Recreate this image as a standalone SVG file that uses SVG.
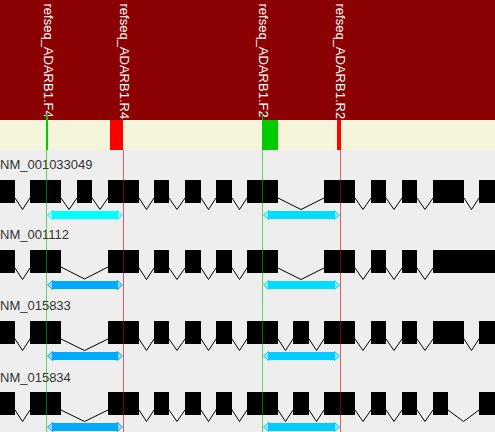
<svg xmlns="http://www.w3.org/2000/svg" width="495" height="432" viewBox="0 0 495 432">
<style>
.hdr{font-family:"Liberation Sans",Arial,sans-serif;font-size:13px;fill:#ffffff}
.lbl{font-family:"Liberation Sans",Arial,sans-serif;font-size:13px;fill:#333333}
.exon{fill:#000000}
.intron{fill:none;stroke:#000000;stroke-width:1}
.vg{stroke:#00bb00;stroke-opacity:0.6;stroke-width:1}
.vr{stroke:#cc0000;stroke-opacity:0.6;stroke-width:1}
.tip{stroke-width:1}
</style>
<rect x="0" y="0" width="495" height="432" fill="#eeeeee"/>
<rect x="0" y="0" width="495" height="120" fill="#8b0000"/>
<rect x="0" y="120" width="495" height="30" fill="#f5f5dc"/>
<g id="primer-labels">
<text class="hdr" transform="translate(43.5,3.5) rotate(90)">refseq_ADARB1.F4</text>
<text class="hdr" transform="translate(119.5,3.5) rotate(90)">refseq_ADARB1.R4</text>
<text class="hdr" transform="translate(258.5,3.5) rotate(90)">refseq_ADARB1.F2</text>
<text class="hdr" transform="translate(336,3.5) rotate(90)">refseq_ADARB1.R2</text>
</g>
<g id="primer-markers">
<rect x="46" y="114" width="2" height="36" fill="#00cc00"/>
<rect x="110" y="120" width="13" height="30" fill="#ff0000"/>
<rect x="262" y="120" width="16" height="30" fill="#00cc00"/>
<rect x="262" y="112" width="1" height="8" fill="#00cc00"/>
<rect x="337" y="120" width="4" height="30" fill="#ff0000"/>
</g>
<g id="transcript-1">
<text class="lbl" x="0" y="168.5">NM_001033049</text>
<g class="exon">
<rect x="0" y="180" width="15" height="23"/><rect x="30" y="180" width="31" height="23"/><rect x="77" y="180" width="15" height="23"/><rect x="108" y="180" width="31" height="23"/><rect x="154" y="180" width="15" height="23"/><rect x="185" y="180" width="16" height="23"/><rect x="216" y="180" width="16" height="23"/><rect x="247" y="180" width="31" height="23"/><rect x="324" y="180" width="31" height="23"/><rect x="371" y="180" width="15" height="23"/><rect x="402" y="180" width="15" height="23"/><rect x="433" y="180" width="31" height="23"/><rect x="479" y="180" width="16" height="23"/>
</g>
<path class="intron" d="M15,198L22.5,209.5L30,198M61,198L69,209.5L77,198M92,198L100,209.5L108,198M139,198L146.5,209.5L154,198M169,198L177,209.5L185,198M201,198L208.5,209.5L216,198M232,198L239.5,209.5L247,198M278,198L301,209.5L324,198M355,198L363,209.5L371,198M386,198L394,209.5L402,198M417,198L425,209.5L433,198M464,198L471.5,209.5L479,198"/>
</g>
<g id="transcript-2">
<text class="lbl" x="0" y="238.5">NM_001112</text>
<g class="exon">
<rect x="0" y="250" width="15" height="23"/><rect x="30" y="250" width="31" height="23"/><rect x="108" y="250" width="31" height="23"/><rect x="154" y="250" width="15" height="23"/><rect x="185" y="250" width="16" height="23"/><rect x="216" y="250" width="16" height="23"/><rect x="247" y="250" width="31" height="23"/><rect x="324" y="250" width="31" height="23"/><rect x="371" y="250" width="15" height="23"/><rect x="402" y="250" width="15" height="23"/><rect x="433" y="250" width="62" height="23"/>
</g>
<path class="intron" d="M15,268L22.5,279.5L30,268M61,267L84.5,279L108,267M139,268L146.5,279.5L154,268M169,268L177,279.5L185,268M201,268L208.5,279.5L216,268M232,268L239.5,279.5L247,268M278,268L301,279.5L324,268M355,268L363,279.5L371,268M386,268L394,279.5L402,268M417,268L425,279.5L433,268"/>
</g>
<g id="transcript-3">
<text class="lbl" x="0" y="310">NM_015833</text>
<g class="exon">
<rect x="0" y="321" width="15" height="23"/><rect x="30" y="321" width="31" height="23"/><rect x="108" y="321" width="31" height="23"/><rect x="154" y="321" width="15" height="23"/><rect x="185" y="321" width="16" height="23"/><rect x="216" y="321" width="16" height="23"/><rect x="247" y="321" width="31" height="23"/><rect x="293" y="321" width="16" height="23"/><rect x="324" y="321" width="31" height="23"/><rect x="371" y="321" width="15" height="23"/><rect x="402" y="321" width="15" height="23"/><rect x="433" y="321" width="31" height="23"/><rect x="479" y="321" width="16" height="23"/>
</g>
<path class="intron" d="M15,339L22.5,350.5L30,339M61,339L84.5,350.5L108,339M139,339L146.5,350.5L154,339M169,339L177,350.5L185,339M201,339L208.5,350.5L216,339M232,339L239.5,350.5L247,339M278,339L285.5,350.5L293,339M309,339L316.5,350.5L324,339M355,339L363,350.5L371,339M386,339L394,350.5L402,339M417,339L425,350.5L433,339M464,339L471.5,350.5L479,339"/>
</g>
<g id="transcript-4">
<text class="lbl" x="0" y="381.5">NM_015834</text>
<g class="exon">
<rect x="0" y="392" width="15" height="23"/><rect x="30" y="392" width="31" height="23"/><rect x="108" y="392" width="31" height="23"/><rect x="154" y="392" width="15" height="23"/><rect x="185" y="392" width="16" height="23"/><rect x="216" y="392" width="16" height="23"/><rect x="247" y="392" width="31" height="23"/><rect x="293" y="392" width="16" height="23"/><rect x="324" y="392" width="31" height="23"/><rect x="371" y="392" width="15" height="23"/><rect x="402" y="392" width="15" height="23"/><rect x="433" y="392" width="15" height="23"/><rect x="479" y="392" width="16" height="23"/>
</g>
<path class="intron" d="M15,410L22.5,421.5L30,410M61,410L84.5,421.5L108,410M139,410L146.5,421.5L154,410M169,410L177,421.5L185,410M201,410L208.5,421.5L216,410M232,410L239.5,421.5L247,410M278,410L285.5,421.5L293,410M309,410L316.5,421.5L324,410M355,410L363,421.5L371,410M386,410L394,421.5L402,410M417,410L425,421.5L433,410M448,410L463.5,421.5L479,410"/>
</g>
<g id="connectors">
<g id="amplicons">
<g fill="#00ffff" stroke="#00ffff"><rect x="52" y="211" width="66" height="8" stroke="none"/><path class="tip" d="M52.5,210.5L47.5,215L52.5,219.5Z M117.5,210.5L122.5,215L117.5,219.5Z" fill-opacity="0.35"/></g>
<g fill="#00ddff" stroke="#00ddff"><rect x="268" y="211" width="67" height="8" stroke="none"/><path class="tip" d="M268.5,210.5L263.5,215L268.5,219.5Z M334.5,210.5L339.5,215L334.5,219.5Z" fill-opacity="0.35"/></g>
<g fill="#00aaff" stroke="#00aaff"><rect x="52" y="281" width="66" height="8" stroke="none"/><path class="tip" d="M52.5,280.5L47.5,285L52.5,289.5Z M117.5,280.5L122.5,285L117.5,289.5Z" fill-opacity="0.35"/></g>
<g fill="#00ddff" stroke="#00ddff"><rect x="268" y="281" width="67" height="8" stroke="none"/><path class="tip" d="M268.5,280.5L263.5,285L268.5,289.5Z M334.5,280.5L339.5,285L334.5,289.5Z" fill-opacity="0.35"/></g>
<g fill="#00aaff" stroke="#00aaff"><rect x="52" y="352" width="66" height="8" stroke="none"/><path class="tip" d="M52.5,351.5L47.5,356L52.5,360.5Z M117.5,351.5L122.5,356L117.5,360.5Z" fill-opacity="0.35"/></g>
<g fill="#00ccff" stroke="#00ccff"><rect x="268" y="352" width="67" height="8" stroke="none"/><path class="tip" d="M268.5,351.5L263.5,356L268.5,360.5Z M334.5,351.5L339.5,356L334.5,360.5Z" fill-opacity="0.35"/></g>
<g fill="#00aaff" stroke="#00aaff"><rect x="52" y="423" width="66" height="8" stroke="none"/><path class="tip" d="M52.5,422.5L47.5,427L52.5,431.5Z M117.5,422.5L122.5,427L117.5,431.5Z" fill-opacity="0.35"/></g>
<g fill="#00ccff" stroke="#00ccff"><rect x="268" y="423" width="67" height="8" stroke="none"/><path class="tip" d="M268.5,422.5L263.5,427L268.5,431.5Z M334.5,422.5L339.5,427L334.5,431.5Z" fill-opacity="0.35"/></g>
</g>
<g id="primer-lines">
<line class="vg" x1="46.5" y1="150" x2="46.5" y2="432"/>
<line class="vr" x1="123.5" y1="150" x2="123.5" y2="432"/>
<line class="vg" x1="262.5" y1="150" x2="262.5" y2="432"/>
<line class="vr" x1="340.5" y1="150" x2="340.5" y2="432"/>
</g>
</g>
</svg>
